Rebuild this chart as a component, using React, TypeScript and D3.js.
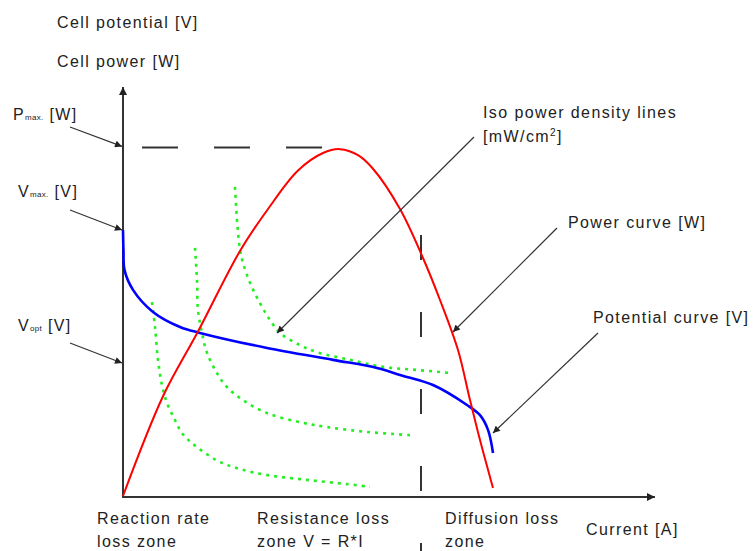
import React from "react";
import * as d3 from "d3";

// ---- data (current in % of axis, value in % of axis height) ----
const powerCurve: [number, number][] = [
  [0, 0], [8, 28.5], [15, 47], [23.4, 70], [29, 82], [35, 93], [40, 98],
  [43.4, 99.1], [47, 97.4], [50, 93.5], [55.4, 82], [60, 68], [63.4, 56],
  [67, 41.7], [69.4, 27.4], [71.4, 16], [73.4, 5.4], [74, 2.3],
];
const potentialCurve: [number, number][] = [
  [0, 76], [0.1, 70], [0.3, 64.6], [2, 58.9], [6, 52.6], [11.4, 48.3],
  [15.4, 46.6], [28.8, 42.3], [42, 38.9], [50.8, 36.6], [55.4, 34.6],
  [62, 31.7], [68.8, 26], [71.4, 23.1], [73, 18.9], [74, 12.3],
];
const isoPower1: [number, number][] = [
  [5.8, 55.4], [6.4, 48.3], [7, 38.9], [7.8, 31.7], [8.8, 26.6], [10.4, 21.7],
  [11.8, 18], [13.8, 15.1], [16.4, 12.3], [19.4, 9.7], [23.4, 7.7], [28.8, 6],
  [36.8, 4.6], [44.8, 3.4], [49.4, 2.6],
];
const isoPower2: [number, number][] = [
  [14.4, 70.9], [14.8, 61.7], [15, 53.1], [15.8, 46.6], [16.8, 40.9],
  [18.8, 35.1], [20.8, 31.1], [24, 27.4], [28.8, 23.7], [35.4, 21.1],
  [40.8, 19.7], [48.8, 18.3], [57.4, 17.4],
];
const isoPower3: [number, number][] = [
  [22.4, 88.3], [22.8, 78.9], [23.4, 70.3], [24, 66.6], [25.4, 60.9],
  [27.4, 55.1], [29.4, 50.3], [31.4, 46.6], [35.4, 43.1], [38.8, 41.1],
  [45.4, 38.9], [52, 36.9], [58.8, 36], [66, 35.1],
];
const isoCurves = [isoPower1, isoPower2, isoPower3];
const P_MAX_LEVEL = 99.6;
const V_MAX_LEVEL = 76;
const V_OPT_LEVEL = 38;
const DIFFUSION_START = 59.6;
const PMAX_DASH_END = 40;

const zoneLabels: [string, string][] = [
  ["Reaction rate", "loss zone"],
  ["Resistance loss", "zone V = R*I"],
  ["Diffusion loss", "zone"],
];

const W = 754;
const H = 551;
const FONT = "'Liberation Sans', Arial, sans-serif";
const TXT = "#222";

export default function App() {
  const x = d3.scaleLinear().domain([0, 100]).range([123, 623]);
  const y = d3.scaleLinear().domain([0, 100]).range([496, 146]);
  const line = d3
    .line<[number, number]>()
    .x((d) => x(d[0]))
    .y((d) => y(d[1]))
    .curve(d3.curveCatmullRom.alpha(0.5));

  const x0 = x(0);
  const y0 = y(0);
  const textStyle: React.CSSProperties = {
    fontFamily: FONT,
    fontSize: 16,
    letterSpacing: 1.4,
    fill: TXT,
  };

  const annotations = [
    { x1: 70, y1: 127, x2: x0 - 1, y2: y(P_MAX_LEVEL) - 1 },
    { x1: 70, y1: 210, x2: x0 - 1, y2: y(V_MAX_LEVEL) },
    { x1: 70, y1: 343, x2: x0 - 1, y2: y(V_OPT_LEVEL) },
    { x1: 474, y1: 137, x2: 277, y2: 333 },
    { x1: 557, y1: 228, x2: 453, y2: 332 },
    { x1: 598, y1: 333, x2: 493, y2: 433 },
  ];

  const zoneX = [97, 257, 445];

  return (
    <div style={{ position: "absolute", left: 0, top: 0 }}>
      <svg width={W} height={H} style={{ display: "block", background: "#fff" }}>
        <defs>
          <marker id="ah" viewBox="0 0 10 10" refX="10" refY="5" markerWidth="9" markerHeight="7" markerUnits="userSpaceOnUse" orient="auto">
            <path d="M0,0 L10,5 L0,10 z" fill="#222" />
          </marker>
          <marker id="axh" viewBox="0 0 10 10" refX="10" refY="5" markerWidth="10" markerHeight="8" markerUnits="userSpaceOnUse" orient="auto">
            <path d="M0,0 L10,5 L0,10 z" fill="#222" />
          </marker>
        </defs>

        {/* axes */}
        <line x1={x0} y1={y0 + 1} x2={x0} y2={87} stroke="#333" strokeWidth={2} markerEnd="url(#axh)" />
        <line x1={x0 - 1} y1={y0 + 1} x2={655} y2={y0 + 1} stroke="#333" strokeWidth={2} markerEnd="url(#axh)" />

        {/* Pmax dashed line */}
        <line x1={142} y1={y(P_MAX_LEVEL)} x2={x(PMAX_DASH_END)} y2={y(P_MAX_LEVEL)} stroke="#333" strokeWidth={2} strokeDasharray="36,36" />

        {/* diffusion zone boundary */}
        <line x1={x(DIFFUSION_START)} y1={235} x2={x(DIFFUSION_START)} y2={H} stroke="#333" strokeWidth={2} strokeDasharray="25,52" />

        {/* iso power lines */}
        {isoCurves.map((c, i) => (
          <path key={i} d={line(c) || ""} fill="none" stroke="#22ee22" strokeWidth={2.6} strokeDasharray="3,5" />
        ))}

        {/* potential curve */}
        <path d={line(potentialCurve) || ""} fill="none" stroke="#0000ff" strokeWidth={2.6} />
        {/* power curve */}
        <path d={line(powerCurve) || ""} fill="none" stroke="#ff0000" strokeWidth={2} />

        {/* annotation arrows */}
        {annotations.map((a, i) => (
          <line key={i} x1={a.x1} y1={a.y1} x2={a.x2} y2={a.y2} stroke="#333" strokeWidth={1.2} markerEnd="url(#ah)" />
        ))}

        {/* axis titles */}
        <text x={57} y={28} style={textStyle}>Cell potential [V]</text>
        <text x={57} y={67} style={textStyle}>Cell power [W]</text>
        <text x={586} y={535} style={textStyle}>Current [A]</text>

        {/* left labels */}
        <text x={13} y={120} style={textStyle}>
          P<tspan style={{ fontSize: 8, letterSpacing: 0.3 }}>max.</tspan> [W]
        </text>
        <text x={18} y={197} style={textStyle}>
          V<tspan style={{ fontSize: 8, letterSpacing: 0.3 }}>max.</tspan> [V]
        </text>
        <text x={18} y={331} style={textStyle}>
          V<tspan style={{ fontSize: 8, letterSpacing: 0.3 }}>opt</tspan> [V]
        </text>

        {/* right labels */}
        <text x={483} y={118} style={textStyle}>Iso power density lines</text>
        <text x={483} y={142} style={textStyle}>
          [mW/cm<tspan dy={-6} style={{ fontSize: 10 }}>2</tspan>
          <tspan dy={6}>]</tspan>
        </text>
        <text x={568} y={228} style={textStyle}>Power curve [W]</text>
        <text x={593} y={323} style={textStyle}>Potential curve [V]</text>

        {/* zone labels */}
        {zoneLabels.map((z, i) => (
          <g key={i}>
            <text x={zoneX[i]} y={524} style={textStyle}>{z[0]}</text>
            <text x={zoneX[i]} y={547} style={textStyle}>{z[1]}</text>
          </g>
        ))}
      </svg>
    </div>
  );
}
